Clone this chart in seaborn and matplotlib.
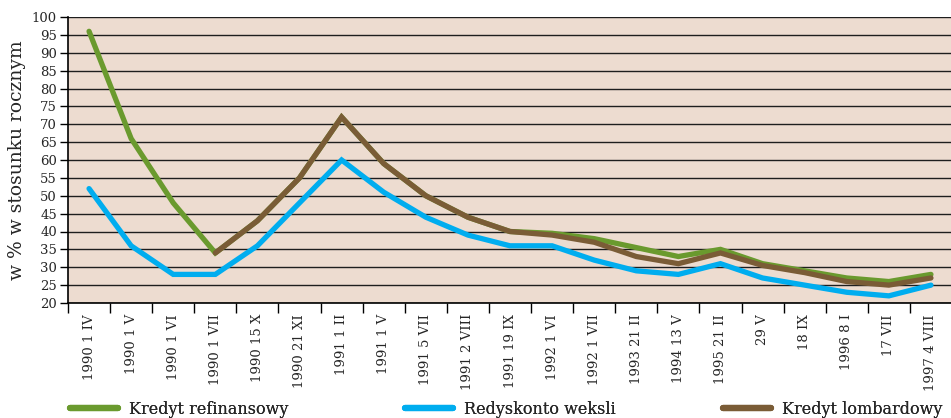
import numpy as np
import pandas as pd
import matplotlib
matplotlib.use("Agg")
import matplotlib.pyplot as plt
import seaborn as sns
from matplotlib.ticker import FixedLocator
from matplotlib.lines import Line2D

# Stopy procentowe NBP (w % w stosunku rocznym)
dates = ["1990 1 IV", "1990 1 V", "1990 1 VI", "1990 1 VII", "1990 15 X",
         "1990 21 XI", "1991 1 II", "1991 1 V", "1991 5 VII", "1991 2 VIII",
         "1991 19 IX", "1992 1 VI", "1992 1 VII", "1993 21 II", "1994 13 V",
         "1995 21 II", "29 V", "18 IX", "1996 8 I", "17 VII", "1997 4 VIII"]

refinansowy = [96, 66, 48, 34, 43, 55, 72, 59, 50, 44, 40, 39.5, 38, 35.5,
               33, 35, 31, 29, 27, 26, 28]
redyskonto = [52, 36, 28, 28, 36, 48, 60, 51, 44, 39, 36, 36, 32, 29,
              28, 31, 27, 25, 23, 22, 25]
lombardowy = [np.nan, np.nan, np.nan, 34, 43, 55, 72, 59, 50, 44, 40, 39, 37, 33,
              31, 34, 30.5, 28.5, 26, 25, 27]

series_names = ["Kredyt refinansowy", "Redyskonto weksli", "Kredyt lombardowy"]
series_values = [refinansowy, redyskonto, lombardowy]
colors = ["#6a9a2e", "#00adef", "#7a5c36"]

y_ticks = list(range(20, 101, 5))

sns.set_theme(style="white")
plt.rcParams["font.family"] = ["DejaVu Serif"]

fig = plt.figure(figsize=(9.51, 4.18), dpi=100)
ax = fig.add_axes([68 / 951, 1 - 303 / 418, 884 / 951, (303 - 17) / 418])
ax.set_facecolor("#eddcd0")

x = np.arange(len(dates))
for name, vals, col in zip(series_names, series_values, colors):
    df = pd.DataFrame({"x": x, "y": vals}).dropna()
    sns.lineplot(data=df, x="x", y="y", ax=ax, color=col, linewidth=3.8,
                 sort=False, legend=False, solid_joinstyle="miter",
                 solid_capstyle="round")

ax.set_xlim(-0.5, len(dates) - 0.5)
ax.set_ylim(20, 100)

# horizontal grid at every tick
for v in y_ticks:
    ax.axhline(v, color="#1e1e1e", linewidth=1.0, zorder=0.5)

ax.set_yticks(y_ticks)
ax.set_yticklabels([str(v) for v in y_ticks], fontsize=9.5)
ax.tick_params(axis="y", direction="out", length=6, width=1, color="black",
               pad=2, left=True)

ax.set_xticks(x)
ax.set_xticklabels(dates, rotation=90, fontsize=9.5, va="top")
ax.xaxis.set_minor_locator(FixedLocator(np.arange(-0.5, len(dates), 1)))
ax.tick_params(axis="x", which="major", length=0, pad=8)
ax.tick_params(axis="x", which="minor", direction="out", length=7, width=1,
               color="black", bottom=True)

for side in ["top", "right"]:
    ax.spines[side].set_visible(False)
for side in ["left", "bottom"]:
    ax.spines[side].set_color("black")
    ax.spines[side].set_linewidth(1.2)

ax.set_xlabel("")
ax.set_ylabel("w % w stosunku rocznym", fontsize=13.5, labelpad=4)

# one legend entry per series, spread along the bottom edge
legend_x = [70, 405, 723]
for name, col, lx in zip(series_names, colors, legend_x):
    h = Line2D([0], [0], color=col, linewidth=4.5, solid_capstyle="round")
    leg = fig.legend([h], [name], loc="center left",
                     bbox_to_anchor=(lx / 951, 1 - 409 / 418), frameon=False,
                     fontsize=11.5, handlelength=3.0, handletextpad=0.7,
                     borderaxespad=0, borderpad=0)
    fig.add_artist(leg)

fig.savefig("out.png", dpi=100)
